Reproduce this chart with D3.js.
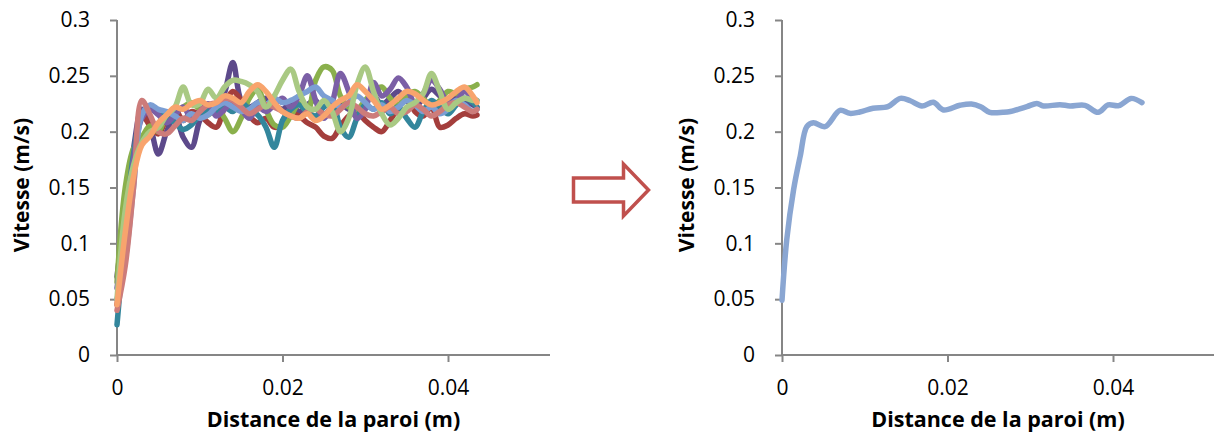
<!DOCTYPE html>
<html>
<head>
<meta charset="utf-8">
<script src="https://cdn.jsdelivr.net/npm/d3@7/dist/d3.min.js"></script>
<style>
  html, body { margin: 0; padding: 0; background: #fff; }
  svg { display: block; }
  text { font-family: "Open Sans", "Liberation Sans", sans-serif; fill: #000; }
</style>
</head>
<body>
<svg id="chart" width="1214" height="444"></svg>
<script>
// ---------- DATA ----------
const xTicks = [0, 0.02, 0.04];
const yTicks = [0, 0.05, 0.1, 0.15, 0.2, 0.25, 0.3];
const xLabel = "Distance de la paroi (m)";
const yLabel = "Vitesse (m/s)";

// shared x positions for the individual profiles (left panel)
const xProfiles = [0, 0.001, 0.002, 0.003, 0.004, 0.005, 0.006, 0.007, 0.008, 0.009,
  0.010, 0.011, 0.012, 0.013, 0.014, 0.015, 0.016, 0.017, 0.018, 0.019,
  0.020, 0.021, 0.022, 0.023, 0.024, 0.025, 0.026, 0.027, 0.028, 0.029,
  0.030, 0.031, 0.032, 0.033, 0.034, 0.035, 0.036, 0.037, 0.038, 0.039,
  0.040, 0.041, 0.042, 0.043, 0.0435];

const darkPurple = [0.070,0.130,0.185,0.220,0.205,0.180,0.200,0.215,0.195,0.186,0.210,0.222,0.220,0.235,0.262,0.228,0.222,0.226,0.230,0.224,0.220,0.226,0.218,0.224,0.228,0.215,0.222,0.225,0.220,0.218,0.226,0.232,0.224,0.230,0.236,0.228,0.222,0.230,0.238,0.232,0.226,0.232,0.228,0.224,0.222];
const darkRed = [0.045,0.100,0.170,0.215,0.205,0.198,0.212,0.220,0.210,0.218,0.215,0.208,0.204,0.222,0.236,0.228,0.214,0.208,0.212,0.204,0.206,0.216,0.214,0.208,0.204,0.196,0.194,0.205,0.214,0.218,0.210,0.204,0.200,0.210,0.222,0.232,0.218,0.214,0.222,0.204,0.206,0.212,0.216,0.214,0.215];
const green = [0.065,0.150,0.185,0.195,0.205,0.200,0.215,0.218,0.222,0.226,0.220,0.215,0.222,0.212,0.200,0.212,0.230,0.238,0.220,0.206,0.204,0.214,0.225,0.218,0.246,0.258,0.255,0.232,0.222,0.220,0.228,0.236,0.240,0.230,0.224,0.232,0.236,0.230,0.222,0.228,0.236,0.234,0.238,0.240,0.242];
const teal = [0.027,0.110,0.180,0.215,0.222,0.218,0.212,0.208,0.202,0.206,0.215,0.220,0.216,0.222,0.218,0.226,0.220,0.215,0.204,0.186,0.210,0.220,0.224,0.218,0.214,0.222,0.226,0.204,0.195,0.212,0.224,0.220,0.226,0.216,0.222,0.212,0.204,0.218,0.228,0.222,0.216,0.224,0.230,0.226,0.222];
const mediumPurple = [0.060,0.110,0.175,0.212,0.220,0.215,0.208,0.215,0.222,0.212,0.218,0.225,0.214,0.220,0.226,0.220,0.212,0.222,0.218,0.224,0.230,0.222,0.232,0.250,0.228,0.212,0.226,0.252,0.236,0.212,0.220,0.244,0.232,0.238,0.248,0.240,0.226,0.234,0.246,0.238,0.226,0.228,0.236,0.230,0.228];
const lightBlue = [0.050,0.085,0.150,0.215,0.224,0.220,0.218,0.214,0.210,0.216,0.212,0.215,0.222,0.226,0.222,0.218,0.220,0.226,0.224,0.230,0.226,0.228,0.232,0.236,0.240,0.232,0.228,0.222,0.226,0.232,0.226,0.220,0.224,0.218,0.222,0.228,0.224,0.218,0.222,0.216,0.220,0.228,0.224,0.218,0.220];
const rose = [0.040,0.080,0.150,0.228,0.215,0.200,0.198,0.205,0.212,0.210,0.218,0.224,0.226,0.230,0.228,0.222,0.216,0.220,0.224,0.222,0.218,0.214,0.212,0.218,0.220,0.216,0.214,0.220,0.226,0.222,0.216,0.214,0.218,0.222,0.216,0.218,0.224,0.220,0.214,0.218,0.224,0.226,0.222,0.218,0.220];
const lightGreen = [0.050,0.130,0.170,0.190,0.200,0.204,0.215,0.222,0.240,0.224,0.225,0.238,0.230,0.240,0.246,0.245,0.242,0.236,0.222,0.232,0.246,0.256,0.236,0.222,0.220,0.228,0.218,0.200,0.212,0.242,0.258,0.236,0.216,0.206,0.212,0.222,0.226,0.234,0.252,0.236,0.220,0.226,0.230,0.228,0.228];
const orange = [0.045,0.110,0.160,0.188,0.196,0.208,0.215,0.222,0.220,0.225,0.228,0.224,0.226,0.232,0.230,0.226,0.236,0.242,0.236,0.226,0.218,0.214,0.212,0.216,0.210,0.214,0.222,0.228,0.232,0.242,0.236,0.228,0.220,0.224,0.230,0.236,0.234,0.228,0.224,0.226,0.230,0.236,0.240,0.232,0.226];

const profileNames = ["darkPurple","darkRed","green","teal","mediumPurple","lightBlue","rose","lightGreen","orange"];
const profileValues = [darkPurple, darkRed, green, teal, mediumPurple, lightBlue, rose, lightGreen, orange];
const profileColors = ["#5d4a8b","#a43e3c","#8ab04c","#33869c","#7b5fa6","#7b9ed4","#cd7c7a","#a9c983","#f8a46d"];

// averaged profile (right panel)
const xMean = [0, 0.00057, 0.0014, 0.0022, 0.003, 0.0038, 0.0052, 0.007, 0.0082, 0.0094,
  0.011, 0.0128, 0.0143, 0.0155, 0.0169, 0.0183, 0.0195, 0.0215, 0.0229, 0.024,
  0.0251, 0.0267, 0.0276, 0.0296, 0.0308, 0.0316, 0.0336, 0.0348, 0.0366, 0.0382,
  0.0394, 0.0407, 0.0422, 0.0435];
const vMean = [0.049, 0.103, 0.148, 0.178, 0.2045, 0.208, 0.2045, 0.219, 0.2164, 0.2176,
  0.221, 0.2224, 0.2298, 0.2277, 0.223, 0.2263, 0.2194, 0.2236, 0.2248, 0.2224,
  0.2173, 0.2173, 0.218, 0.2224, 0.2253, 0.223, 0.2242, 0.223, 0.2236, 0.2173,
  0.2239, 0.2233, 0.2298, 0.226];
const meanColor = "#8aa6d2";

// ---------- DRAW ----------
const svg = d3.select("#chart");
const axisColor = "#868686";

function panel(x0, xEnd) {
  const x = d3.scaleLinear().domain([0, 0.02]).range([x0, x0 + 165.5]);
  const y = d3.scaleLinear().domain([0, 0.3]).range([355, 20]);
  const g = svg.append("g");

  const ya = g.append("g").attr("transform", `translate(${x0},0)`)
    .call(d3.axisLeft(y).tickValues(yTicks).tickSize(7).tickPadding(20)
      .tickFormat(d => d3.format("")(+d.toFixed(2))));
  const xa = g.append("g").attr("transform", `translate(0,355)`)
    .call(d3.axisBottom(x).tickValues(xTicks).tickSize(7).tickPadding(18)
      .tickFormat(d => d3.format("")(+d.toFixed(2))));
  [ya, xa].forEach(a => {
    a.select(".domain").remove();
    a.selectAll(".tick line").attr("stroke", axisColor).attr("stroke-width", 2);
    a.selectAll(".tick text").attr("font-size", 21).attr("font-family", '"Open Sans", sans-serif').attr("fill", "#000");
  });
  xa.selectAll(".tick text").attr("dy", "0.71em");
  g.append("line").attr("x1", x0).attr("x2", x0).attr("y1", 20).attr("y2", 356)
    .attr("stroke", axisColor).attr("stroke-width", 2);
  g.append("line").attr("x1", x0 - 1).attr("x2", xEnd).attr("y1", 355).attr("y2", 355)
    .attr("stroke", axisColor).attr("stroke-width", 2);

  g.append("text").attr("x", (x0 + xEnd) / 2).attr("y", 427)
    .attr("text-anchor", "middle").attr("font-weight", "bold").attr("font-size", 21.5)
    .text(xLabel);
  g.append("text").attr("transform", `translate(${x0 - 88},185) rotate(-90)`)
    .attr("text-anchor", "middle").attr("font-weight", "bold").attr("font-size", 21)
    .text(yLabel);
  return { x, y, g };
}

const left = panel(117, 550);
const right = panel(782, 1214);

const lineL = d3.line().x(d => left.x(d[0])).y(d => left.y(d[1])).curve(d3.curveCatmullRom.alpha(0.5));
profileValues.forEach((vals, i) => {
  left.g.append("path")
    .datum(xProfiles.map((xv, j) => [xv, vals[j]]))
    .attr("d", lineL).attr("fill", "none")
    .attr("stroke", profileColors[i]).attr("stroke-width", 5.5)
    .attr("stroke-linejoin", "round").attr("stroke-linecap", "round")
    .attr("class", "profile-" + profileNames[i]);
});

const lineR = d3.line().x(d => right.x(d[0])).y(d => right.y(d[1])).curve(d3.curveCatmullRom.alpha(0.5));
right.g.append("path")
  .datum(xMean.map((xv, j) => [xv, vMean[j]]))
  .attr("d", lineR).attr("fill", "none")
  .attr("stroke", meanColor).attr("stroke-width", 5.5)
  .attr("stroke-linejoin", "round").attr("stroke-linecap", "round");

svg.append("path")
  .attr("d", "M573.5,178 L623.5,178 L623.5,164 L648.5,190 L623.5,216 L623.5,202 L573.5,202 Z")
  .attr("fill", "#fff").attr("stroke", "#c0504d").attr("stroke-width", 3.5)
  .attr("stroke-linejoin", "miter");
</script>
</body>
</html>
